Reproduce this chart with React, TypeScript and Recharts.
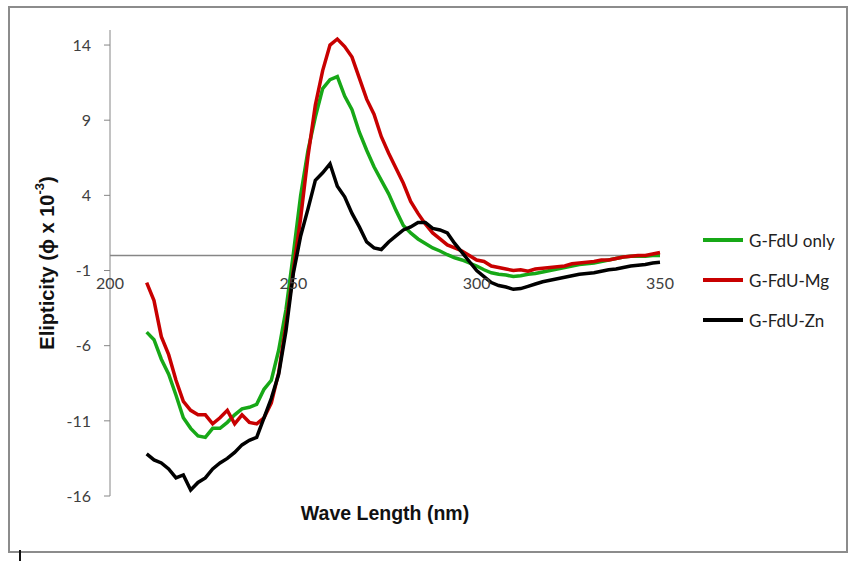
import { LineChart, Line, XAxis, YAxis, ReferenceLine, ReferenceDot } from "recharts"

const wavelength = [
  210, 212, 214, 216, 218, 220, 222, 224, 226, 228, 230, 232, 234, 236, 238, 240, 242, 244, 246, 248,
  250, 252, 254, 256, 258, 260, 262, 264, 266, 268, 270, 272, 274, 276, 278, 280, 282, 284, 286, 288,
  290, 292, 294, 296, 298, 300, 302, 304, 306, 308, 310, 312, 314, 316, 318, 320, 322, 324, 326, 328,
  330, 332, 334, 336, 338, 340, 342, 344, 346, 348, 350,
]

const fduOnly = [
  -5.1, -5.6, -6.9, -7.9, -9.3, -10.8, -11.5, -12.0, -12.1, -11.5, -11.5, -11.1, -10.6, -10.2, -10.1, -9.9, -8.9, -8.3, -6.3, -3.6,
  0.1, 4.0, 7.0, 9.2, 11.1, 11.7, 11.9, 10.6, 9.7, 8.2, 7.0, 5.9, 5.0, 4.1, 3.0, 2.0, 1.5, 1.1, 0.8, 0.5,
  0.3, 0.05, -0.15, -0.3, -0.5, -0.7, -0.95, -1.15, -1.25, -1.3, -1.4, -1.35, -1.25, -1.2, -1.1, -1.0, -0.9, -0.8, -0.7, -0.6,
  -0.55, -0.5, -0.4, -0.3, -0.2, -0.1, -0.05, -0.05, -0.05, 0.0, 0.0,
]

const fduMg = [
  -1.8, -3.0, -5.4, -6.6, -8.3, -9.7, -10.3, -10.6, -10.6, -11.2, -10.8, -10.3, -11.2, -10.6, -11.1, -11.2, -10.8, -9.8, -7.8, -4.6,
  -1.0, 2.5, 6.6, 10.0, 12.3, 14.0, 14.4, 13.9, 13.2, 11.8, 10.4, 9.4, 7.9, 6.8, 5.8, 4.8, 3.6, 2.8, 2.1, 1.5,
  1.1, 0.7, 0.5, 0.3, 0.0, -0.3, -0.4, -0.7, -0.8, -0.9, -1.0, -0.95, -1.05, -0.9, -0.85, -0.8, -0.75, -0.7, -0.55, -0.5,
  -0.45, -0.4, -0.3, -0.3, -0.2, -0.1, -0.05, 0.0, 0.0, 0.1, 0.2,
]

const fduZn = [
  -13.2, -13.6, -13.8, -14.2, -14.8, -14.6, -15.6, -15.1, -14.8, -14.2, -13.8, -13.5, -13.1, -12.6, -12.3, -12.1, -10.8, -9.5, -7.9, -5.0,
  -1.2, 1.3, 3.1, 5.0, 5.5, 6.1, 4.6, 3.9, 2.8, 1.9, 0.9, 0.5, 0.4, 0.9, 1.3, 1.7, 1.9, 2.2, 2.2, 1.8,
  1.7, 1.5, 0.8, 0.2, -0.4, -1.0, -1.4, -1.8, -2.0, -2.1, -2.25, -2.2, -2.05, -1.9, -1.75, -1.65, -1.55, -1.45, -1.35, -1.25,
  -1.2, -1.15, -1.05, -0.95, -0.9, -0.8, -0.7, -0.65, -0.6, -0.5, -0.45,
]

const seriesNames = ["G-FdU only", "G-FdU-Mg", "G-FdU-Zn"]
const seriesColors = ["#17a817", "#c80000", "#000000"]

const xTicks = [200, 250, 300, 350]
const yTicks = [-16, -11, -6, -1, 4, 9, 14]

const data = wavelength.map((w, i) => ({ nm: w, only: fduOnly[i], mg: fduMg[i], zn: fduZn[i] }))
const keys = ["only", "mg", "zn"]

const tickFont = { fill: "#404040", fontSize: 16, fontFamily: "Lato" }

export default function App() {
  return (
    <div>
      <div
        style={{
          position: "absolute",
          left: 8,
          top: 6,
          width: 836,
          height: 543,
          border: "2px solid #8c8c8c",
        }}
      />
      <div style={{ position: "absolute", left: 19, top: 550, width: 2, height: 11, background: "#111" }} />
      <div style={{ position: "absolute", left: 0, top: 0 }}>
        <LineChart width={848} height={561} data={data} margin={{ top: 30, right: 188, bottom: 65, left: 50 }}>
          <XAxis dataKey="nm" type="number" domain={[200, 350]} ticks={xTicks} hide />
          <YAxis
            type="number"
            domain={[-16, 15]}
            ticks={yTicks}
            interval={0}
            width={60}
            stroke="#868686"
            tickSize={6}
            tickMargin={13}
            tick={tickFont}
          />
          <ReferenceLine y={0} stroke="#868686" strokeWidth={1.5} />
          {xTicks.map((t) => (
            <ReferenceDot
              key={t}
              x={t}
              y={0}
              r={0}
              fill="none"
              stroke="none"
              label={{ value: String(t), position: "bottom", offset: 22, ...tickFont }}
            />
          ))}
          {keys.map((k, i) => (
            <Line
              key={k}
              dataKey={k}
              name={seriesNames[i]}
              stroke={seriesColors[i]}
              strokeWidth={3.5}
              dot={false}
              isAnimationActive={false}
            />
          ))}
        </LineChart>
      </div>
      <div style={{ position: "absolute", left: 703, top: 229, display: "flex", flexDirection: "column", gap: 18 }}>
        {seriesNames.map((n, i) => (
          <div key={n} style={{ display: "flex", alignItems: "center", height: 22 }}>
            <div style={{ width: 40, height: 4, background: seriesColors[i], marginRight: 6 }} />
            <span style={{ fontFamily: "Lato", fontSize: 17, color: "#222" }}>{n}</span>
          </div>
        ))}
      </div>
      <svg width={848} height={561} style={{ position: "absolute", left: 0, top: 0, pointerEvents: "none" }}>
        <text
          transform="translate(47,263) rotate(-90)"
          textAnchor="middle"
          dominantBaseline="central"
          fontFamily="Liberation Sans"
          fontWeight="bold"
          fontSize={20}
          fill="#111"
        >
          Elipticity (ϕ x 10
          <tspan dy={-8} fontSize={13}>-3</tspan>
          <tspan dy={8}>)</tspan>
        </text>
        <text
          x={385}
          y={513}
          textAnchor="middle"
          dominantBaseline="central"
          fontFamily="Liberation Sans"
          fontWeight="bold"
          fontSize={19.5}
          fill="#111"
        >
          Wave Length (nm)
        </text>
      </svg>
    </div>
  )
}
